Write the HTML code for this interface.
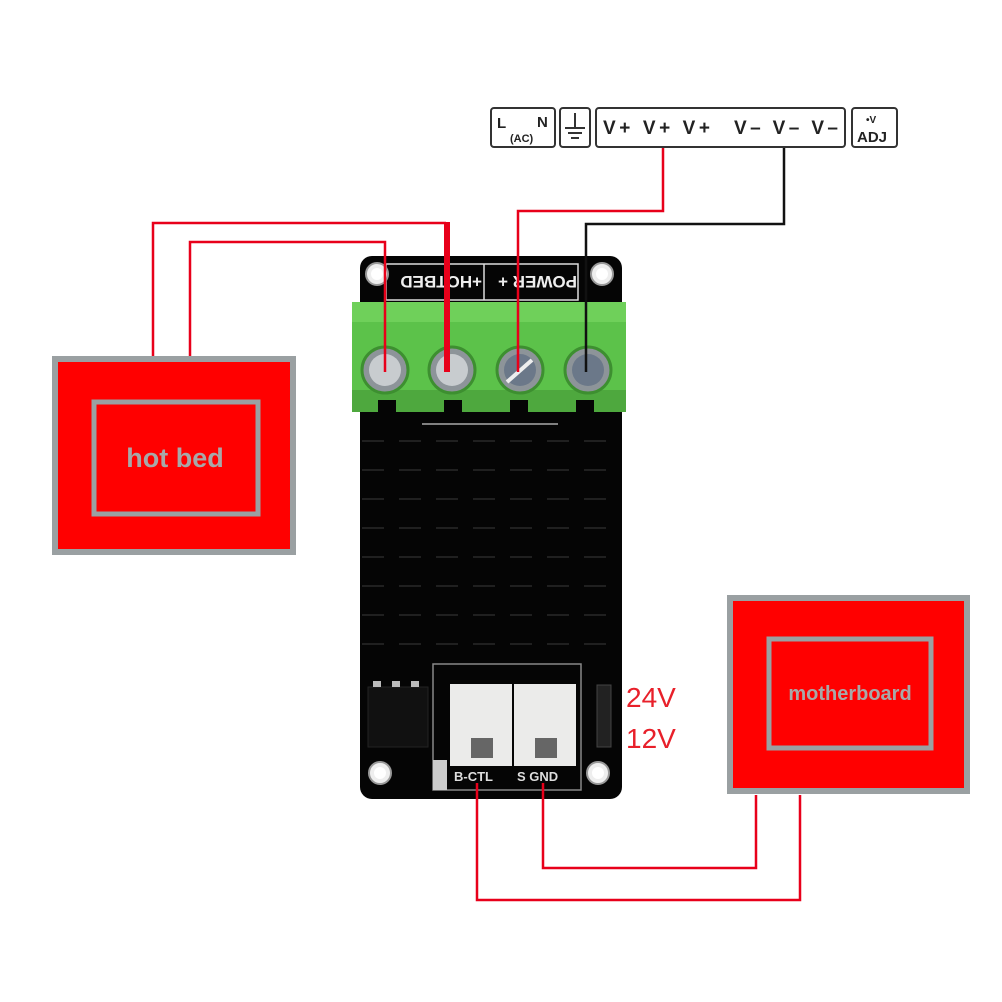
<!DOCTYPE html>
<html><head><style>
html,body{margin:0;padding:0;background:#fff;}
body{width:1002px;height:1002px;position:relative;overflow:hidden;font-family:"Liberation Sans",sans-serif;}
</style></head><body>
<svg width="1002" height="1002" viewBox="0 0 1002 1002" xmlns="http://www.w3.org/2000/svg" style="position:absolute;left:0;top:0">
<!-- power supply strip -->
<g fill="#fff" stroke="#333" stroke-width="2">
<rect x="491" y="108" width="64" height="39" rx="3"/>
<rect x="560" y="108" width="30" height="39" rx="3"/>
<rect x="596" y="108" width="249" height="39" rx="3"/>
<rect x="852" y="108" width="45" height="39" rx="3"/>
</g>
<g font-family="Liberation Sans, sans-serif" font-weight="bold" fill="#222">
<text x="497" y="128" font-size="15">L</text>
<text x="537" y="127" font-size="15">N</text>
<text x="510" y="142" font-size="11">(AC)</text>
<text x="603" y="134" font-size="19" textLength="107" lengthAdjust="spacing">V+ V+ V+</text>
<text x="734" y="134" font-size="19" textLength="104" lengthAdjust="spacing">V– V– V–</text>
<text x="866" y="123" font-size="10">•V</text>
<text x="857" y="142" font-size="15">ADJ</text>
</g>
<g stroke="#333" stroke-width="2">
<line x1="575" y1="113" x2="575" y2="128"/>
<line x1="565" y1="128" x2="585" y2="128"/>
<line x1="568" y1="133" x2="582" y2="133"/>
<line x1="571" y1="138" x2="579" y2="138"/>
</g>
<!-- board -->
<rect x="360" y="256" width="262" height="543" rx="12" fill="#050505"/>
<rect x="386" y="264" width="192" height="36" fill="none" stroke="#ddd" stroke-width="1.5"/>
<line x1="484" y1="264" x2="484" y2="300" stroke="#ddd" stroke-width="1.5"/>
<g font-family="Liberation Sans, sans-serif" font-weight="bold" fill="#eee" font-size="17">
<text x="0" y="0" transform="translate(482,276) rotate(180)">+HOTBED</text>
<text x="0" y="0" transform="translate(577,276) rotate(180)">POWER +</text>
</g>
<circle cx="377" cy="274" r="11" fill="#eee" stroke="#999" stroke-width="2"/>
<circle cx="377" cy="274" r="6" fill="#fff"/>
<circle cx="602" cy="274" r="11" fill="#eee" stroke="#999" stroke-width="2"/>
<circle cx="602" cy="274" r="6" fill="#fff"/>
<!-- heatsink faint grid -->
<g stroke="#2a2a2a" stroke-width="1.5" stroke-dasharray="22 15">
<line x1="362" y1="441" x2="620" y2="441"/>
<line x1="362" y1="470" x2="620" y2="470"/>
<line x1="362" y1="499" x2="620" y2="499"/>
<line x1="362" y1="528" x2="620" y2="528"/>
<line x1="362" y1="557" x2="620" y2="557"/>
<line x1="362" y1="586" x2="620" y2="586"/>
<line x1="362" y1="615" x2="620" y2="615"/>
<line x1="362" y1="644" x2="620" y2="644"/>
</g>
<line x1="422" y1="424" x2="558" y2="424" stroke="#aaa" stroke-width="1.5"/>
<!-- green terminal block -->
<rect x="352" y="302" width="274" height="104" fill="#5cc24a"/>
<rect x="352" y="302" width="274" height="20" fill="#6fd05a"/>
<rect x="352" y="390" width="274" height="22" fill="#4ea83e"/>
<g fill="#050505">
<rect x="378" y="400" width="18" height="12"/><rect x="444" y="400" width="18" height="12"/>
<rect x="510" y="400" width="18" height="12"/><rect x="576" y="400" width="18" height="12"/>
</g>
<g stroke="#3d8f30" stroke-width="3" fill="#8d9499">
<circle cx="385" cy="370" r="23"/><circle cx="452" cy="370" r="23"/>
<circle cx="520" cy="370" r="23"/><circle cx="588" cy="370" r="23"/>
</g>
<g fill="#c8cccf"><circle cx="385" cy="370" r="16"/><circle cx="452" cy="370" r="16"/></g>
<g fill="#6b7889"><circle cx="520" cy="370" r="16"/><circle cx="588" cy="370" r="16"/></g>
<line x1="507" y1="382" x2="532" y2="360" stroke="#eee" stroke-width="4"/>
<!-- bottom components -->
<rect x="368" y="687" width="60" height="60" fill="#111" stroke="#222"/>
<g fill="#bbb"><rect x="373" y="681" width="8" height="6"/><rect x="392" y="681" width="8" height="6"/><rect x="411" y="681" width="8" height="6"/></g>
<rect x="433" y="664" width="148" height="126" fill="none" stroke="#888" stroke-width="1.5"/>
<rect x="450" y="684" width="62" height="82" fill="#ebebea"/>
<rect x="514" y="684" width="62" height="82" fill="#ebebea"/>
<rect x="471" y="738" width="22" height="20" fill="#666"/>
<rect x="535" y="738" width="22" height="20" fill="#666"/>
<rect x="433" y="760" width="14" height="30" fill="#ccc"/>
<g font-family="Liberation Sans, sans-serif" font-weight="bold" fill="#ddd" font-size="13">
<text x="454" y="781">B-CTL</text><text x="517" y="781">S GND</text>
</g>
<rect x="597" y="685" width="14" height="62" fill="#222" stroke="#444"/>
<circle cx="380" cy="773" r="11" fill="#eee" stroke="#999" stroke-width="2"/>
<circle cx="380" cy="773" r="6" fill="#fff"/>
<circle cx="598" cy="773" r="11" fill="#eee" stroke="#999" stroke-width="2"/>
<circle cx="598" cy="773" r="6" fill="#fff"/>
<text x="626" y="707" font-family="Liberation Sans, sans-serif" font-size="28" fill="#e8202a">24V</text>
<text x="626" y="748" font-family="Liberation Sans, sans-serif" font-size="28" fill="#e8202a">12V</text>
<!-- hot bed -->
<rect x="55" y="359" width="238" height="193" fill="#ff0000" stroke="#9aa0a2" stroke-width="6"/>
<rect x="94" y="402" width="164" height="112" fill="#ff0000" stroke="#9aa0a2" stroke-width="5"/>
<text x="175" y="467" text-anchor="middle" font-family="Liberation Sans, sans-serif" font-weight="bold" font-size="27" fill="#a8a8a8">hot bed</text>
<!-- motherboard -->
<rect x="730" y="598" width="237" height="193" fill="#ff0000" stroke="#9aa0a2" stroke-width="6"/>
<rect x="769" y="639" width="162" height="109" fill="#ff0000" stroke="#9aa0a2" stroke-width="5"/>
<text x="850" y="700" text-anchor="middle" font-family="Liberation Sans, sans-serif" font-weight="bold" font-size="20" fill="#a8a8a8">motherboard</text>
<!-- wires -->
<g fill="none" stroke="#e8001a" stroke-width="2.5">
<polyline points="153,356 153,223 446,223"/>
<polyline points="190,356 190,242 385,242 385,372"/>
<polyline points="663,148 663,211 518,211 518,372"/>
<polyline points="477,783 477,900 800,900 800,795"/>
<polyline points="543,783 543,868 756,868 756,795"/>
</g>
<line x1="447" y1="222" x2="447" y2="372" stroke="#e8001a" stroke-width="6"/>
<polyline points="784,148 784,224 586,224 586,372" fill="none" stroke="#111" stroke-width="2.5"/>
</svg>
</body></html>
